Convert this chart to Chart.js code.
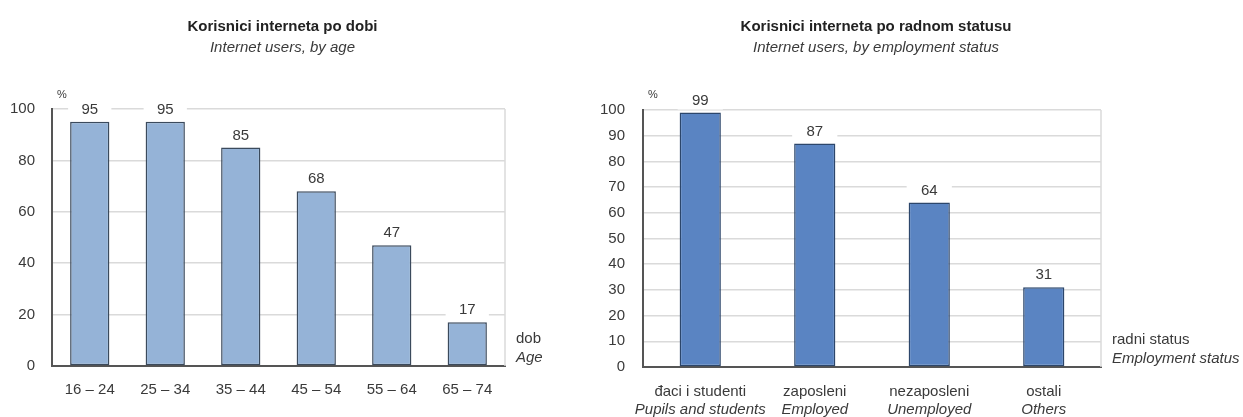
<!DOCTYPE html>
<html>
<head>
<meta charset="utf-8">
<script src="https://cdn.jsdelivr.net/npm/chart.js@4.4.0/dist/chart.umd.min.js"></script>
<style>
  html, body { margin: 0; padding: 0; background: #fff; }
  #wrap { position: relative; width: 1243px; height: 417px; overflow: hidden; }
  .box { position: absolute; top: 0; height: 417px; }
</style>
</head>
<body>
<div id="wrap">
  <div class="box" style="left:0;width:580px"><canvas id="ageChart"></canvas></div>
  <div class="box" style="left:580px;width:663px"><canvas id="statusChart"></canvas></div>
</div>
<script>
// podaci
const ageLabels = ['16 – 24', '25 – 34', '35 – 44', '45 – 54', '55 – 64', '65 – 74'];
const ageValues = [95, 95, 85, 68, 47, 17];
const ageStep = 20;

const statusLabels = ['đaci i studenti', 'zaposleni', 'nezaposleni', 'ostali'];
const statusLabelsEn = ['Pupils and students', 'Employed', 'Unemployed', 'Others'];
const statusValues = [99, 87, 64, 31];
const statusStep = 10;

const FONT = "'Liberation Sans', Arial, sans-serif";
const TEXT = '#3a3a3a';
const GRID = '#dadada';

Chart.defaults.font.family = FONT;
Chart.defaults.color = TEXT;

// naslovi, oznake vrijednosti, opisi osi
const decorPlugin = {
    id: 'decor',
    afterDatasetsDraw(chart, args, opts) {
        const { ctx, chartArea: a } = chart;
        ctx.save();

        // desni rub
        ctx.strokeStyle = GRID;
        ctx.lineWidth = 1.5;
        ctx.beginPath();
        ctx.moveTo(a.right, a.top);
        ctx.lineTo(a.right, a.bottom);
        ctx.stroke();

        // vrijednosti iznad stupaca
        const meta = chart.getDatasetMeta(0);
        const values = chart.data.datasets[0].data;
        ctx.font = '15px ' + FONT;
        ctx.textAlign = 'center';
        ctx.textBaseline = 'middle';
        meta.data.forEach((bar, i) => {
            const ly = bar.y - 12;
            ctx.fillStyle = '#fff';
            ctx.fillRect(bar.x - bar.width / 2 - 2, ly - 9, bar.width + 4, 18);
            ctx.fillStyle = TEXT;
            ctx.fillText(values[i], bar.x, ly);
        });

        // naslov
        const cx = (a.left + a.right) / 2 + 4;
        ctx.font = 'bold 15px ' + FONT;
        ctx.fillStyle = '#222';
        ctx.fillText(opts.title, cx, 27);
        ctx.font = 'italic 15px ' + FONT;
        ctx.fillStyle = TEXT;
        ctx.fillText(opts.subtitle, cx, 48);

        // %
        ctx.font = '11px ' + FONT;
        ctx.textAlign = 'left';
        ctx.fillText('%', a.left + 5, 95);

        // opis x osi
        ctx.font = '15px ' + FONT;
        ctx.fillText(opts.axisName, a.right + 11, a.bottom - 27);
        ctx.font = 'italic 15px ' + FONT;
        ctx.fillText(opts.axisNameEn, a.right + 11, a.bottom - 8);

        // drugi red oznaka (engleski)
        if (opts.subLabels) {
            const xs = chart.scales.x;
            ctx.textAlign = 'center';
            opts.subLabels.forEach((t, i) => {
                ctx.fillText(t, xs.getPixelForValue(i), a.bottom + 43);
            });
        }
        ctx.restore();
    }
};

function makeChart(id, labels, values, step, o) {
    return new Chart(document.getElementById(id), {
        type: 'bar',
        data: {
            labels,
            datasets: [{
                data: values,
                backgroundColor: o.fill,
                borderColor: o.border,
                borderWidth: 1.5,
                borderSkipped: false,
                categoryPercentage: 1,
                barPercentage: o.barPct
            }]
        },
        plugins: [decorPlugin],
        options: {
            responsive: true,
            maintainAspectRatio: false,
            animation: false,
            layout: { padding: { left: 0, right: o.padRight, top: o.top, bottom: 0 } },
            plugins: {
                legend: { display: false },
                tooltip: { enabled: false },
                decor: o.decor
            },
            scales: {
                x: {
                    grid: { display: false },
                    border: { display: true, color: '#555', width: 2 },
                    ticks: { font: { size: 15 }, color: TEXT, padding: o.xPad, maxRotation: 0, autoSkip: false },
                    afterFit: s => { s.height = o.xHeight; }
                },
                y: {
                    min: 0, max: 100,
                    grid: { color: GRID, lineWidth: 1.5, drawTicks: false },
                    border: { display: true, color: '#555', width: 2 },
                    ticks: { stepSize: step, font: { size: 15 }, color: TEXT, padding: o.yPad },
                    afterFit: s => { s.width = o.yWidth; }
                }
            }
        }
    });
}

makeChart('ageChart', ageLabels, ageValues, ageStep, {
    fill: '#95b3d7', border: '#3b4a5c', barPct: 0.52,
    padRight: 75, top: 109, xHeight: 51, yWidth: 52, yPad: 17, xPad: 7,
    decor: {
        title: 'Korisnici interneta po dobi',
        subtitle: 'Internet users, by age',
        axisName: 'dob', axisNameEn: 'Age'
    }
});

makeChart('statusChart', statusLabels, statusValues, statusStep, {
    fill: '#5a84c2', border: '#2c466b', barPct: 0.36,
    padRight: 142, top: 110, xHeight: 50, yWidth: 63, yPad: 18, xPad: 8,
    decor: {
        title: 'Korisnici interneta po radnom statusu',
        subtitle: 'Internet users, by employment status',
        axisName: 'radni status', axisNameEn: 'Employment status',
        subLabels: statusLabelsEn
    }
});
</script>
</body>
</html>
